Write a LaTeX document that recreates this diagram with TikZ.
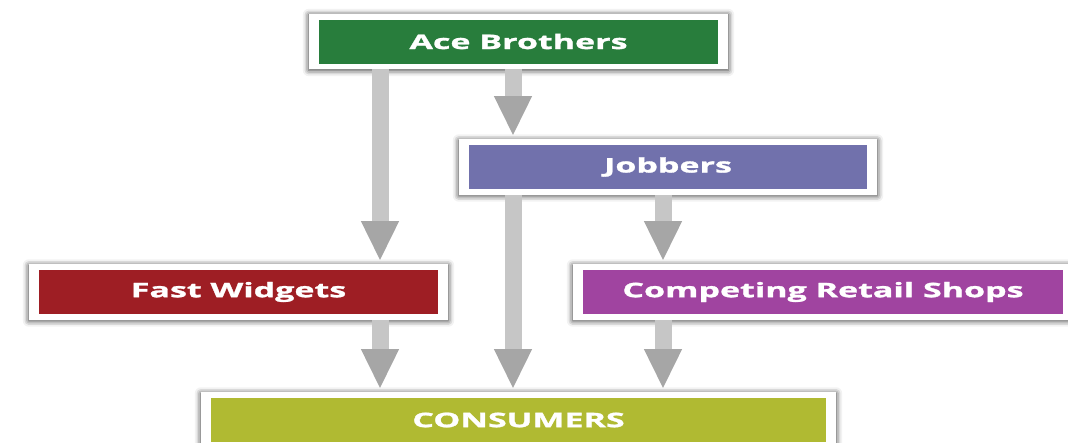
\documentclass[tikz,border=0pt]{standalone}
\usepackage{fontspec}
\setmainfont{Open Sans}[FakeStretch=1.7,FakeBold=1.5]
\usetikzlibrary{arrows.meta,fit,backgrounds,shadows.blur}
\definecolor{acegreen}{RGB}{40,125,60}
\definecolor{jobblue}{RGB}{113,113,172}
\definecolor{fastred}{RGB}{158,30,36}
\definecolor{comppurple}{RGB}{160,68,160}
\definecolor{consgreen}{RGB}{176,186,50}
\tikzset{
    box/.style = {rectangle, text=white,
        font=\bfseries\fontsize{20}{24}\selectfont,
        minimum height=44, inner sep=0pt},
    frame/.style = {rectangle, fill=white, inner xsep=10, inner ysep=5.5,
        blur shadow={shadow xshift=0pt, shadow yshift=-1pt,
            shadow blur radius=6pt, shadow opacity=80}},
    flow/.style = {draw=gray!45, line width=17pt, shorten >=3pt,
        -{Triangle[width=35pt,length=40pt,color=gray!70]}}
}

\begin{document}
\begin{tikzpicture}[x=1pt,y=-1pt]
            \useasboundingbox (0,0) rectangle (1068,442);
            \node[box, fill=acegreen, minimum width=399] (ace) at (518.5,41.5) {Ace Brothers};
            \node[box, fill=jobblue, minimum width=398] (job) at (668,167) {Jobbers};
            \node[box, fill=fastred, minimum width=399] (fast) at (238.5,292) {Fast Widgets};
            \node[box, fill=comppurple, minimum width=480] (comp) at (823,292) {Competing Retail Shops};
            \node[box, fill=consgreen, minimum width=615] (cons) at (518.5,420) {CONSUMERS};
            \begin{scope}[on background layer]
                \foreach \n in {ace,job,fast,comp,cons}
                    \node[frame, fit=(\n)] (\n-f) {};
            \end{scope}
            \coordinate (colA) at (380,0);
            \coordinate (colB) at (513,0);
            \coordinate (colC) at (663,0);
            \draw[flow] (ace-f.south -| colA) -- (fast-f.north -| colA);
            \draw[flow] (ace-f.south -| colB) -- (job-f.north -| colB);
            \draw[flow] (job-f.south -| colB) -- (cons-f.north -| colB);
            \draw[flow] (job-f.south -| colC) -- (comp-f.north -| colC);
            \draw[flow] (fast-f.south -| colA) -- (cons-f.north -| colA);
            \draw[flow] (comp-f.south -| colC) -- (cons-f.north -| colC);
        \end{tikzpicture}
\end{document}
